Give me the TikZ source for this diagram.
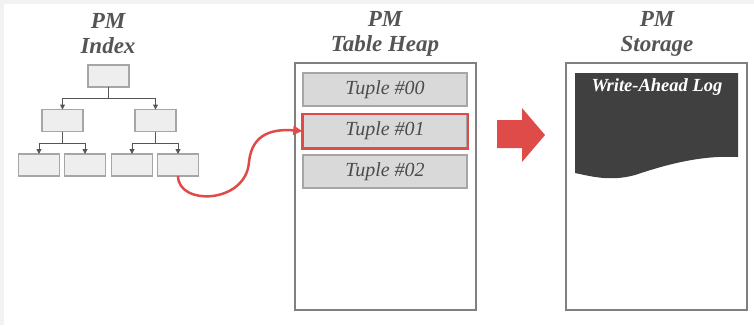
\documentclass[tikz,border=0pt]{standalone}
\usepackage{fontspec}
\setmainfont{Liberation Serif}
\usepackage{xcolor}
\usepackage{tikz}
\usetikzlibrary{arrows.meta,positioning,calc}
\definecolor{ttl}{HTML}{555555}
\definecolor{boxln}{HTML}{808080}
\definecolor{treeln}{HTML}{A6A6A6}
\definecolor{treefl}{HTML}{EEEEEE}
\definecolor{tupfl}{HTML}{D9D9D9}
\definecolor{hot}{HTML}{DE4B48}
\definecolor{wal}{HTML}{404040}
\tikzset{
  title/.style={align=center, font=\fontsize{23bp}{25bp}\selectfont\bfseries\itshape,
                text=ttl, inner sep=0pt},
  tnode/.style={rectangle, draw=treeln, fill=treefl, line width=1.5bp,
                minimum width=41bp, minimum height=22bp, inner sep=0pt, outer sep=0pt},
  tup/.style={rectangle, draw=treeln, fill=tupfl, line width=1.5bp,
              minimum width=164bp, minimum height=33bp, inner sep=0pt,
              font=\fontsize{20bp}{22bp}\selectfont\itshape, text=ttl!90!black},
  pane/.style={draw=boxln, line width=2bp},
  tarr/.style={-{Triangle[length=5bp,width=5bp]}, draw=ttl, line width=1bp},
  ptr/.style={-{Triangle[length=9bp,width=9bp]}, draw=hot, line width=2.5bp},
}
\begin{document}
\begin{tikzpicture}[x=1bp, y=-1bp]
\fill[black!5] (0,0) rectangle (754,325);
\fill[white] (4,4) rectangle (754,325);
\useasboundingbox (0,0) rectangle (754,325);
% titles
\node[title] (ttlidx) at (108,34) {PM\\Index};
\node[title] (ttlheap) at (385,34) {PM\\Table Heap};
\node[title] (ttlstor) at (657,34) {PM\\Storage};
% index tree
\node[tnode] (root) at (108.5,76) {};
\node[tnode] (l2a) at (62.5,120.5) {};
\node[tnode] (l2b) at (155.5,120.5) {};
\node[tnode] (lfa) at (39,165) {};
\node[tnode, right=5bp of lfa] (lfb) {};
\node[tnode, right=6bp of lfb] (lfc) {};
\node[tnode, right=5bp of lfc] (lfd) {};
\draw[tarr] (root.south) -- ++(0,11) -| (l2a.north);
\draw[tarr] (root.south) -- ++(0,11) -| (l2b.north);
\draw[tarr] (l2a.south) -- ++(0,12) -| (lfa.north);
\draw[tarr] (l2a.south) -- ++(0,12) -| (lfb.north);
\draw[tarr] (l2b.south) -- ++(0,12) -| (lfc.north);
\draw[tarr] (l2b.south) -- ++(0,12) -| (lfd.north);
% table heap
\draw[pane] (295,63) rectangle (476,310);
\node[tup] (tup00) at (385,89.5) {Tuple \#00};
\node[tup, below=7bp of tup00] (tup01) {Tuple \#01};
\node[tup, below=6bp of tup01] (tup02) {Tuple \#02};
\draw[draw=hot, line width=2.5bp] (tup01.north west) rectangle (tup01.south east);
% pointer from leaf to tuple
\draw[ptr] (lfd.south) .. controls (178,206) and (246,204) .. (249,162)
  .. controls (252,132) and (275,129) .. (tup01.west);
% big arrow
\fill[hot] (497,120) -- (522,120) -- (522,108) -- (545,135) -- (522,162)
  -- (522,148) -- (497,148) -- cycle;
% storage
\draw[pane] (566,63) rectangle (747,310);
\fill[wal] (575,73) -- (738,73) -- (738,157)
  .. controls (700,155) and (665,165) .. (635,175)
  .. controls (610,182) and (590,176) .. (575,173) -- cycle;
\node[font=\fontsize{18.5bp}{20bp}\selectfont\bfseries\itshape, text=white,
      inner sep=0pt] (wallog) at (657,87) {Write-Ahead Log};
\end{tikzpicture}
\end{document}
